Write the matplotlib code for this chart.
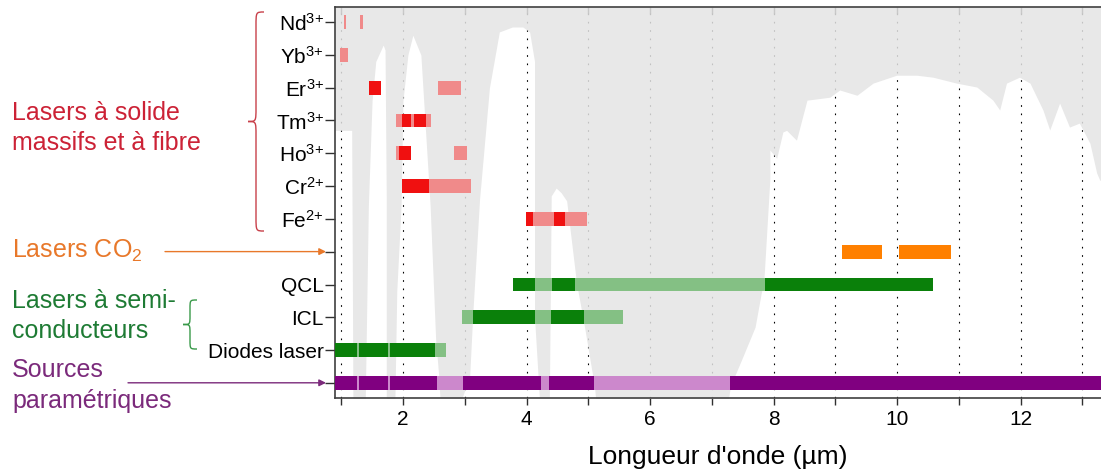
import numpy as np
import matplotlib.pyplot as plt
from matplotlib.path import Path
from matplotlib.patches import PathPatch

plt.rcParams['font.family'] = ['Liberation Sans', 'DejaVu Sans']
plt.rcParams['mathtext.fontset'] = 'custom'
plt.rcParams['mathtext.rm'] = 'Liberation Sans'
plt.rcParams['mathtext.it'] = 'Liberation Sans:italic'

# rangees (de haut en bas)
rangees = [r'Nd$^{\text{3+}}$', r'Yb$^{\text{3+}}$', r'Er$^{\text{3+}}$', r'Tm$^{\text{3+}}$',
           r'Ho$^{\text{3+}}$', r'Cr$^{\text{2+}}$', r'Fe$^{\text{2+}}$', '', 'QCL', 'ICL',
           'Diodes laser', '']

# plages d'emission (um) : partie claire (absorbee) et partie foncee (fenetre atmospherique)
clair = [
    [(1.05, 1.07), (1.30, 1.35)],
    [(0.98, 1.11)],
    [(2.57, 2.94)],
    [(1.89, 2.45)],
    [(1.89, 2.13), (2.83, 3.04)],
    [(2.42, 3.10)],
    [(4.11, 4.44), (4.62, 4.98)],
    [],
    [(4.14, 4.41), (4.79, 7.86)],
    [(2.96, 3.13), (4.14, 4.40), (4.93, 5.57)],
    [(0.90, 2.70)],
    [(0.90, 13.3)],
]
fonce = [
    [],
    [],
    [(1.45, 1.64)],
    [(1.98, 2.13), (2.18, 2.37)],
    [(1.93, 2.13)],
    [(1.98, 2.42)],
    [(3.99, 4.11), (4.44, 4.62)],
    [(9.10, 9.76), (10.03, 10.87)],
    [(3.78, 4.14), (4.41, 4.79), (7.86, 10.58)],
    [(3.13, 4.14), (4.40, 4.93)],
    [(0.90, 1.26), (1.285, 1.76), (1.785, 2.52)],
    [(0.90, 1.26), (1.285, 1.76), (1.785, 2.55), (2.97, 4.23), (4.36, 5.10), (7.29, 13.3)],
]
famille = ['r', 'r', 'r', 'r', 'r', 'r', 'r', 'o', 'g', 'g', 'g', 'p']
c_fonce = {'r': '#F01010', 'o': '#FF8000', 'g': '#0A800A', 'p': '#800080'}
c_clair = {'r': '#F08A8A', 'o': '#FFB060', 'g': '#84C084', 'p': '#CC88CC'}

# limite de la zone d'absorption atmospherique (en unites de rangee)
wl_fond = [0.90, 1.17, 1.19, 1.39, 1.44, 1.50, 1.56, 1.68, 1.71, 1.73, 1.73,
           1.87, 1.90, 1.97, 2.00, 2.08, 2.16, 2.29, 2.44, 2.53, 2.58, 2.60,
           2.95, 3.08, 3.13, 3.24, 3.40, 3.56, 3.77, 3.94, 4.05, 4.13, 4.13, 4.21,
           4.37, 4.40, 4.48, 4.56, 4.65, 4.81, 4.94, 5.10, 5.12,
           7.27, 7.30, 7.48, 7.70, 7.80, 7.84, 7.92, 7.94, 7.94, 8.05, 8.15, 8.21,
           8.37, 8.54, 8.91, 9.07, 9.35, 9.61, 9.99, 10.32, 10.58, 10.96, 11.29,
           11.55, 11.66, 11.77, 11.98, 12.15, 12.36, 12.47, 12.63, 12.79, 12.95,
           13.12, 13.23, 13.28, 13.30]
lim_fond = [3.3, 3.3, 11.5, 11.5, 5.6, 2.4, 1.2, 0.7, 0.85, 5.4, 11.5,
            11.5, 8.2, 5.6, 2.4, 1.0, 0.4, 1.0, 5.6, 9.7, 10.8, 11.5,
            11.5, 10.8, 8.9, 5.4, 2.0, 0.3, 0.15, 0.15, 0.3, 1.2, 9.0, 11.5,
            11.5, 5.3, 5.06, 5.2, 5.45, 7.96, 9.3, 11.1, 11.5,
            11.5, 11.1, 10.3, 9.3, 8.26, 7.96, 5.4, 4.76, 3.9, 4.15, 3.35, 3.3,
            3.6, 2.38, 2.29, 2.07, 2.23, 1.86, 1.62, 1.62, 1.68, 1.86, 1.98,
            2.38, 2.68, 1.86, 1.68, 1.86, 2.68, 3.29, 2.47, 3.20, 3.08,
            3.69, 4.60, 4.82, 4.82]

fig = plt.figure(figsize=(11.01, 4.75), dpi=100)
ax = fig.add_axes([335 / 1101, 1 - 398 / 475, 1 - 335 / 1101, 391 / 475])

ax.fill_between(wl_fond, -1, lim_fond, color='#E4E4E4', alpha=0.85, lw=0, zorder=1)

h = 0.42
for i in range(len(rangees)):
    f = famille[i]
    for a, b in clair[i]:
        ax.barh(i, b - a, left=a, height=h, color=c_clair[f], lw=0, zorder=3)
    for a, b in fonce[i]:
        ax.barh(i, b - a, left=a, height=h, color=c_fonce[f], lw=0, zorder=4)

ax.set_xlim(0.9, 13.3)
ax.set_ylim(11.46, -0.46)
ax.set_xticks(range(2, 13, 2))
ax.set_xticks(range(1, 14, 2), minor=True)
ax.set_yticks(range(len(rangees)))
ax.set_yticklabels(rangees, fontsize=15)
ax.tick_params(axis='y', direction='out', length=7, width=1, pad=1, colors='#303030', labelcolor='black')
ax.tick_params(axis='x', which='both', direction='out', length=5, width=1, labelsize=15, colors='#303030', labelcolor='black')
ax.set_axisbelow(True)
ax.grid(axis='x', which='both', color='black', linestyle=(0, (1.5, 6)), lw=0.8)
ax.set_xlabel("Longueur d'onde (µm)", fontsize=19, labelpad=12)
for s in ['left', 'bottom', 'top']:
    ax.spines[s].set_color('#404040')
    ax.spines[s].set_linewidth(1.2)
ax.spines['right'].set_visible(False)

haut = ax.secondary_xaxis('top')
haut.set_xticks(range(1, 14))
haut.tick_params(direction='in', length=5, width=1, labeltop=False, colors='#303030')
haut.spines['top'].set_visible(False)

# annotations dans le repere pixel
ov = fig.add_axes([0, 0, 1, 1], facecolor='none')
ov.set_xlim(0, 1101)
ov.set_ylim(475, 0)
ov.axis('off')


def accolade(x_bout, x_pointe, y0, y1, r, couleur):
    xm = (x_bout + x_pointe) / 2
    ym = (y0 + y1) / 2
    pts = [(x_bout, y0), (xm, y0), (xm, y0), (xm, y0 + r),
           (xm, ym - r), (xm, ym), (xm, ym), (x_pointe, ym),
           (xm, ym), (xm, ym), (xm, ym + r),
           (xm, y1 - r), (xm, y1), (xm, y1), (x_bout, y1)]
    codes = [Path.MOVETO, Path.CURVE4, Path.CURVE4, Path.CURVE4,
             Path.LINETO, Path.CURVE4, Path.CURVE4, Path.CURVE4,
             Path.CURVE4, Path.CURVE4, Path.CURVE4,
             Path.LINETO, Path.CURVE4, Path.CURVE4, Path.CURVE4]
    ov.add_patch(PathPatch(Path(pts, codes), fc='none', ec=couleur, lw=1))


rouge = '#CC2236'
orange = '#E8782A'
vert = '#1E7B34'
violet = '#7B2A7B'

accolade(264, 248, 12, 231, 14, '#C8404A')
accolade(197, 183, 300, 349, 9, '#3A9A4A')

ov.text(12, 120, 'Lasers à solide', color=rouge, fontsize=18, va='baseline')
ov.text(12, 150, 'massifs et à fibre', color=rouge, fontsize=18, va='baseline')
ov.text(12, 258, 'Lasers CO$_2$', color=orange, fontsize=18, va='baseline')
ov.text(12, 308, 'Lasers à semi-', color=vert, fontsize=18, va='baseline')
ov.text(12, 338, 'conducteurs', color=vert, fontsize=18, va='baseline')
ov.text(12, 377, 'Sources', color=violet, fontsize=18, va='baseline')
ov.text(12, 408, 'paramétriques', color=violet, fontsize=18, va='baseline')

ov.annotate('', xy=(326, 251.6), xytext=(165, 251.6),
            arrowprops=dict(arrowstyle='-|>', color=orange, lw=1, mutation_scale=10, shrinkA=0, shrinkB=0))
ov.annotate('', xy=(326, 382.8), xytext=(128, 382.8),
            arrowprops=dict(arrowstyle='-|>', color=violet, lw=1, mutation_scale=10, shrinkA=0, shrinkB=0))

fig.savefig('out.png', dpi=100)
